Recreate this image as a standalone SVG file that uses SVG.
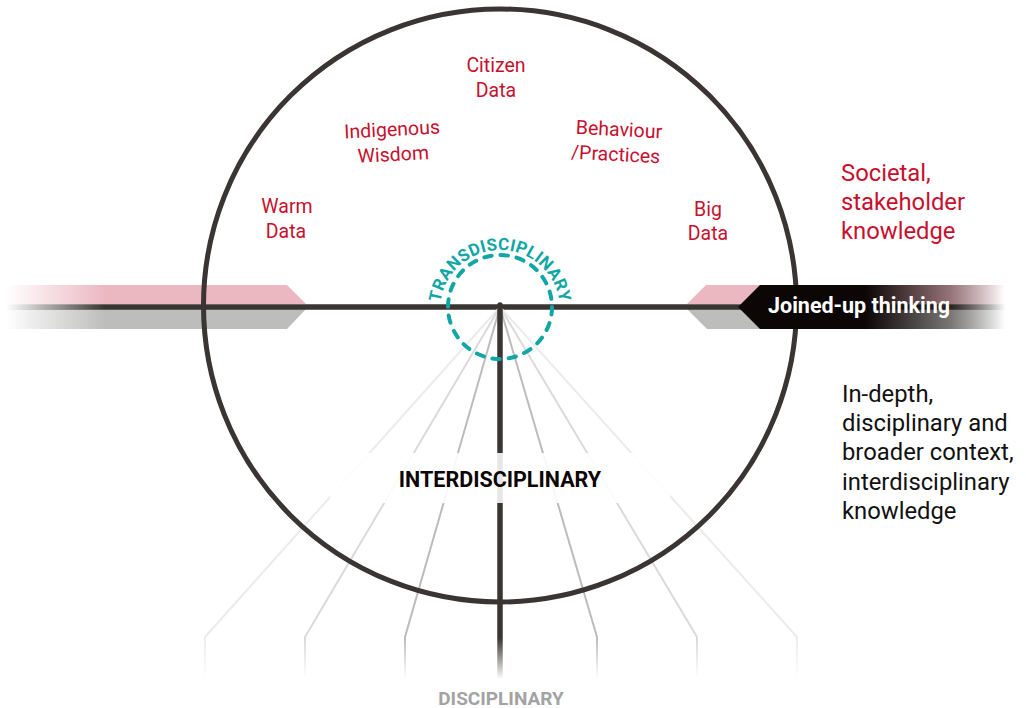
<svg xmlns="http://www.w3.org/2000/svg" width="1026" height="708" viewBox="0 0 1026 708">
  <defs>
    <style>
      .lbl { font-family: Roboto, "Liberation Sans", sans-serif; font-size: 19.5px; fill: #C8102E; text-anchor: middle; }
      .side { font-family: Roboto, "Liberation Sans", sans-serif; font-size: 23.8px; }
      .bold { font-family: Roboto, "Liberation Sans", sans-serif; font-weight: bold; }
      .ray1 { fill: none; stroke: #bcbcbc; stroke-width: 2; stroke-linejoin: round; }
      .ray2 { fill: none; stroke: #dadada; stroke-width: 2; stroke-linejoin: round; }
      .ray3 { fill: none; stroke: #ebebeb; stroke-width: 2; stroke-linejoin: round; }
      .dark { stroke: #3a3432; fill: none; }
      .pink { fill: #EBB8C2; }
      .grey { fill: #BDBDBC; }
    </style>
    <linearGradient id="fadeLeftG" gradientUnits="userSpaceOnUse" x1="6" y1="0" x2="105" y2="0">
      <stop offset="0" stop-color="#000"/>
      <stop offset="1" stop-color="#fff"/>
    </linearGradient>
    <linearGradient id="fadeRightG" gradientUnits="userSpaceOnUse" x1="950" y1="0" x2="1006" y2="0">
      <stop offset="0" stop-color="#fff"/>
      <stop offset="1" stop-color="#000"/>
    </linearGradient>
    <linearGradient id="fadeBottomG" gradientUnits="userSpaceOnUse" x1="0" y1="638" x2="0" y2="679">
      <stop offset="0" stop-color="#fff"/>
      <stop offset="1" stop-color="#000"/>
    </linearGradient>
    <linearGradient id="arrowG" gradientUnits="userSpaceOnUse" x1="738" y1="0" x2="1004" y2="0">
      <stop offset="0" stop-color="#0c0605" stop-opacity="1"/>
      <stop offset="0.48" stop-color="#0c0605" stop-opacity="1"/>
      <stop offset="1" stop-color="#0c0605" stop-opacity="0"/>
    </linearGradient>
    <mask id="fadeLeft" maskUnits="userSpaceOnUse" x="0" y="0" width="1026" height="708">
      <rect x="0" y="0" width="1026" height="708" fill="url(#fadeLeftG)"/>
    </mask>
    <mask id="fadeRight" maskUnits="userSpaceOnUse" x="0" y="0" width="1026" height="708">
      <rect x="0" y="0" width="1026" height="708" fill="url(#fadeRightG)"/>
    </mask>
    <mask id="fadeBottom" maskUnits="userSpaceOnUse" x="0" y="0" width="1026" height="708">
      <rect x="0" y="0" width="1026" height="708" fill="url(#fadeBottomG)"/>
    </mask>
    <path id="transArc" d="M 442.04,325.53 A 60 60 0 1 1 557.96,325.53"/>
  </defs>

  <rect width="1026" height="708" fill="#ffffff"/>

  <!-- side bands -->
  <g id="bands-left" mask="url(#fadeLeft)">
    <polygon class="pink" points="5,285 287,285 306,304 5,304"/>
    <polygon class="grey" points="5,309 306,309 287,329 5,329"/>
  </g>
  <g id="bands-right" mask="url(#fadeRight)">
    <polygon class="pink" points="687,304 706,285 1006,285 1006,304"/>
    <polygon class="grey" points="687,309 1006,309 1006,329 707,329"/>
  </g>

  <!-- connectors -->
  <g id="connectors">
    <g mask="url(#fadeLeft)">
      <g mask="url(#fadeRight)">
        <line class="dark" x1="5" y1="307" x2="1006" y2="307" stroke-width="5.5"/>
      </g>
    </g>
    <g mask="url(#fadeBottom)">
      <polyline class="ray3" points="500,307 205,637 205,690"/>
      <polyline class="ray2" points="500,307 305,637 305,690"/>
      <polyline class="ray1" points="500,307 405,637 405,690"/>
      <polyline class="ray1" points="500,307 597,637 597,690"/>
      <polyline class="ray2" points="500,307 697,637 697,690"/>
      <polyline class="ray3" points="500,307 797,637 797,690"/>
      <line class="dark" x1="500" y1="305" x2="500" y2="690" stroke-width="5.5" stroke-linecap="round"/>
    </g>
  </g>

  <!-- outer circle -->
  <g id="circle-main">
    <circle class="dark" cx="500" cy="305.5" r="296.5" stroke-width="5"/>
  </g>

  <!-- transdisciplinary -->
  <g id="transdisciplinary">
    <circle cx="500" cy="307" r="52" fill="none" stroke="#11A6A6" stroke-width="4" stroke-dasharray="7.5 8.84" stroke-linecap="round"/>
    <text class="bold" font-size="17" fill="#11A6A6" letter-spacing="0.3">
      <textPath href="#transArc" startOffset="50%" text-anchor="middle">TRANSDISCIPLINARY</textPath>
    </text>
  </g>

  <!-- interdisciplinary -->
  <g id="interdisciplinary">
    <rect x="330" y="453" width="340" height="50" fill="#ffffff" fill-opacity="0.88"/>
    <text class="bold" x="500" y="487" font-size="21.5" fill="#0c0605" text-anchor="middle">INTERDISCIPLINARY</text>
  </g>

  <!-- disciplinary -->
  <g id="disciplinary">
    <text class="bold" x="501" y="705" font-size="19" fill="#a3a3a3" text-anchor="middle">DISCIPLINARY</text>
  </g>

  <!-- joined-up thinking -->
  <g id="joined-up">
    <polygon points="738,307 760,285 1004,285 1004,329 760,329" fill="url(#arrowG)"/>
    <text class="bold" x="768" y="312.5" font-size="21.5" fill="#ffffff">Joined-up thinking</text>
  </g>

  <!-- labels -->
  <g id="citizen-data">
    <text class="lbl" x="496" y="72">Citizen</text>
    <text class="lbl" x="496" y="97">Data</text>
  </g>
  <g id="indigenous-wisdom" transform="rotate(-3 393 148)">
    <text class="lbl" x="393" y="136">Indigenous</text>
    <text class="lbl" x="393" y="161">Wisdom</text>
  </g>
  <g id="behaviour-practices" transform="rotate(3 617 148)">
    <text class="lbl" x="618" y="136">Behaviour</text>
    <text class="lbl" x="616" y="161">/Practices</text>
  </g>
  <g id="warm-data">
    <text class="lbl" x="287" y="213">Warm</text>
    <text class="lbl" x="286" y="238">Data</text>
  </g>
  <g id="big-data">
    <text class="lbl" x="708" y="216">Big</text>
    <text class="lbl" x="708" y="240">Data</text>
  </g>

  <g id="societal">
    <text class="side" fill="#C8102E">
      <tspan x="841" y="181">Societal,</tspan>
      <tspan x="841" y="210">stakeholder</tspan>
      <tspan x="841" y="239">knowledge</tspan>
    </text>
  </g>
  <g id="in-depth">
    <text class="side" fill="#111111">
      <tspan x="842" y="402">In-depth,</tspan>
      <tspan x="842" y="431">disciplinary and</tspan>
      <tspan x="842" y="460">broader context,</tspan>
      <tspan x="842" y="490">interdisciplinary</tspan>
      <tspan x="842" y="519">knowledge</tspan>
    </text>
  </g>
</svg>
